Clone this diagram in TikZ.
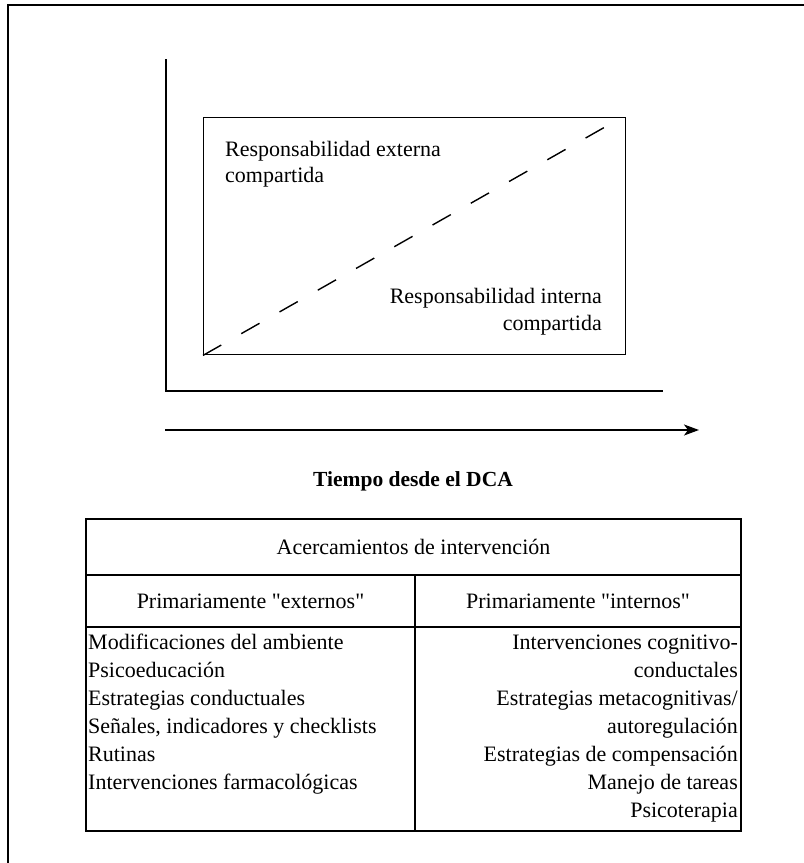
\documentclass[tikz,border=0pt]{standalone}
\usepackage{fontspec}
\setmainfont{Liberation Serif}
\newfontfamily\plainqfont{Liberation Serif}
\usetikzlibrary{arrows.meta}
\newcommand{\sq}{{\plainqfont\char34\relax}}
\begin{document}
\begin{tikzpicture}[x=1pt,y=-1pt,
  txt/.style={inner sep=0pt, font=\fontsize{22}{26}\selectfont},
  boldtxt/.style={inner sep=0pt, font=\fontsize{21.5}{26}\selectfont\bfseries},
  axisline/.style={line width=1.5pt, line cap=rect},
  boxline/.style={line width=1.4pt},
  tabline/.style={line width=1.4pt},
  dashline/.style={line width=1.4pt, dash pattern=on 21pt off 23pt},
  frameline/.style={line width=2.7pt}]
\useasboundingbox (0,0) rectangle (804,863);
% outer frame (only left and top visible)
\draw[frameline] (8,900) -- (8,5) -- (900,5);

% axes
\coordinate (ytop) at (166,60);
\coordinate (origin) at (166,391);
\coordinate (xend) at (662,391);
\draw[axisline] (ytop) -- (origin) -- (xend);

% inner box
\node[draw, boxline, inner sep=0pt, minimum width=422pt, minimum height=237pt, anchor=north west] (box) at (203,117) {};
\coordinate (dstart) at (box.south west);
\coordinate (dend) at (605,127);
\draw[dashline] (dstart) -- (dend);

\node[txt, anchor=base west] (ext1) at (225,156) {Responsabilidad externa};
\node[txt, anchor=base west] (ext2) at (225,182) {compartida};
\node[txt, anchor=base east] (int1) at (602,303) {Responsabilidad interna};
\node[txt, anchor=base east] (int2) at (602,330) {compartida};

% time arrow
\coordinate (astart) at (166,430);
\coordinate (aend) at (699,430);
\draw[axisline, -{Stealth[length=15pt, width=11pt, inset=4pt]}] (astart) -- (aend);
\node[boldtxt, anchor=base] (tiempo) at (413,486) {Tiempo desde el DCA};

% table
\coordinate (tNW) at (86,519);
\coordinate (r1W) at (86,575);
\coordinate (r1E) at (741,575);
\coordinate (r2W) at (86,627);
\coordinate (r2E) at (741,627);
\coordinate (tSE) at (741,831);
\coordinate (dTop) at (415,575);
\coordinate (dBot) at (415,831);
\draw[tabline] (tNW) rectangle (tSE);
\draw[tabline] (r1W) -- (r1E);
\draw[tabline] (r2W) -- (r2E);
\draw[tabline] (dTop) -- (dBot);

\node[txt, anchor=base] (hdr) at (413.5,554) {Acercamientos de intervención};
\node[txt, anchor=base] (hext) at (250.5,608) {Primariamente \sq externos\sq};
\node[txt, anchor=base] (hint) at (578,608) {Primariamente \sq internos\sq};

\node[txt, anchor=base west] (l1) at (88,649) {Modificaciones del ambiente};
\node[txt, anchor=base west] (l2) at (88,677) {Psicoeducación};
\node[txt, anchor=base west] (l3) at (88,705) {Estrategias conductuales};
\node[txt, anchor=base west] (l4) at (88,733) {Señales, indicadores y checklists};
\node[txt, anchor=base west] (l5) at (88,761) {Rutinas};
\node[txt, anchor=base west] (l6) at (88,789) {Intervenciones farmacológicas};

\node[txt, anchor=base east] (r1) at (738,649) {Intervenciones cognitivo-};
\node[txt, anchor=base east] (r2) at (738,677) {conductales};
\node[txt, anchor=base east] (r3) at (738,705) {Estrategias metacognitivas/};
\node[txt, anchor=base east] (r4) at (738,733) {autoregulación};
\node[txt, anchor=base east] (r5) at (738,761) {Estrategias de compensación};
\node[txt, anchor=base east] (r6) at (738,789) {Manejo de tareas};
\node[txt, anchor=base east] (r7) at (738,817) {Psicoterapia};
\end{tikzpicture}
\end{document}
